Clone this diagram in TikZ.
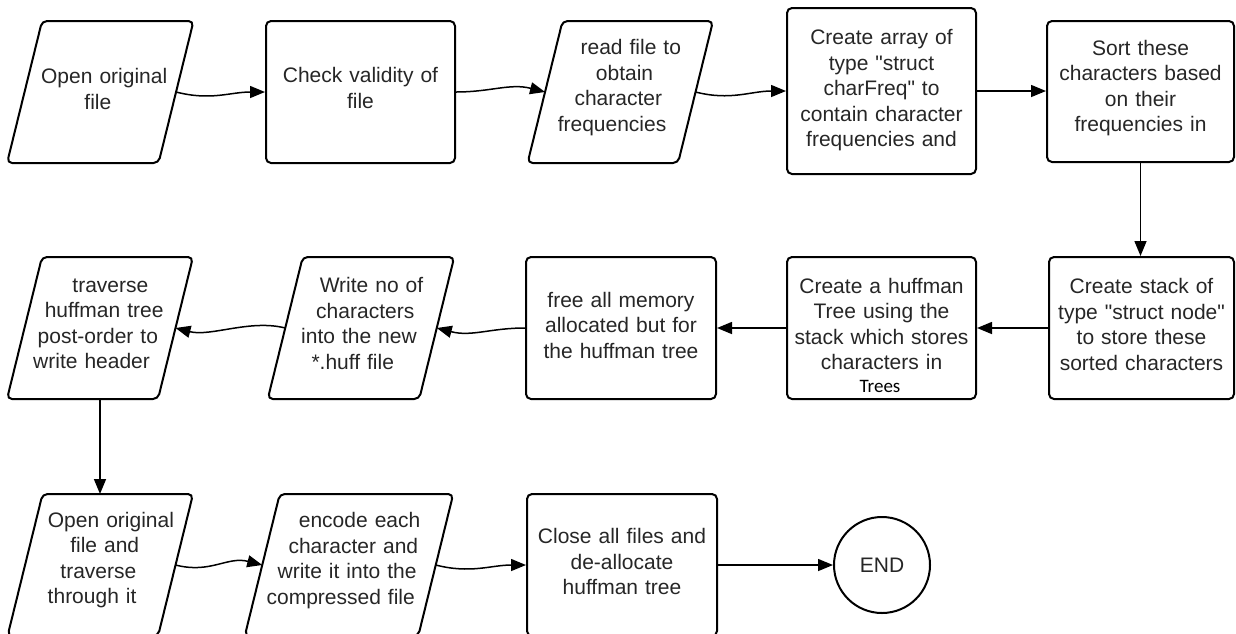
\documentclass[tikz,border=0pt]{standalone}
\usepackage{fontspec}
\setmainfont{Liberation Sans}[Ligatures=TeXOff]
\newfontfamily\carlito{Carlito}
\usetikzlibrary{arrows.meta}
% horizontal shift of a single line inside a centred block
\newcommand{\lsh}[1]{\hspace*{#1pt}}
\begin{document}
\begin{tikzpicture}[x=1pt,y=-1pt,
  rbox/.style={draw=black, line width=2pt, rounded corners=5pt, inner sep=0pt},
  pmid/.style={inner sep=0pt, outer sep=0pt},
  pline/.style={draw=black, line width=2pt, rounded corners=5pt, line join=round},
  txt/.style={text=black!85, font=\fontsize{21}{25.5}\selectfont, align=center,
              inner sep=0pt, text width=220pt},
  conn/.style={draw=black, line width=1.5pt, -{Triangle[length=15pt,width=12pt]}},
]
\useasboundingbox (0,0) rectangle (1236,633);

% ---------- row 1 ----------
\node[pmid, minimum width=151.5pt, minimum height=142pt] (p1) at (100.3,92) {};
\node[txt] (p1t) at (100.3,89) {\lsh{7.8}Open original\\\lsh{-4.8}file};

\node[rbox, minimum width=189pt, minimum height=142pt] (r2) at (360.5,92) {};
\node[txt] (r2t) at (360.5,88) {Check validity of\\file};

\node[pmid, minimum width=150.5pt, minimum height=142pt] (p3) at (620.3,92) {};
\node[txt] (p3t) at (620.3,87.5) {\lsh{21}read file to\\\lsh{8.5}obtain\\\lsh{-4}character\\\lsh{-16.5}frequencies};

\node[rbox, minimum width=189pt, minimum height=166pt] (r4) at (881.5,91) {};
\node[txt] (r4t) at (881.5,90.5) {Create array of\\type "struct\\charFreq" to\\contain character\\frequencies and};

\node[rbox, minimum width=187pt, minimum height=141pt] (r5) at (1140.5,91.5) {};
\node[txt] (r5t) at (1140.5,88) {Sort these\\characters based\\on their\\frequencies in};

% ---------- row 2 ----------
\node[rbox, minimum width=185pt, minimum height=142pt] (r10) at (1141.5,328) {};
\node[txt] (r10t) at (1141.5,324.5) {Create stack of\\type "struct node"\\to store these\\sorted characters};

\node[rbox, minimum width=189pt, minimum height=142pt] (r9) at (881.5,328) {};
\node[txt] (r9t) at (881.5,324) {Create a huffman\\Tree using the\\stack which stores\\characters in};
\node[font=\carlito\fontsize{19}{23}\selectfont, text=black, inner sep=0pt, anchor=base] (r9x) at (880,392) {Trees};

\node[rbox, minimum width=190pt, minimum height=142pt] (r8) at (621,328) {};
\node[txt] (r8t) at (621,325) {free all memory\\allocated but for\\the huffman tree};

\node[pmid, minimum width=151.5pt, minimum height=142pt] (p7) at (361,328) {};
\node[txt] (p7t) at (361,323.5) {\lsh{21}Write no of\\\lsh{8.5}characters\\\lsh{-4}into the new\\\lsh{-16.5}*.huff file};

\node[pmid, minimum width=151pt, minimum height=142pt] (p6) at (100,328) {};
\node[txt] (p6t) at (100,324) {\lsh{20.8}traverse\\\lsh{8.3}huffman tree\\\lsh{-4.3}post-order to\\\lsh{-16.9}write header};

% ---------- row 3 ----------
\node[pmid, minimum width=150.5pt, minimum height=142pt] (p11) at (100.3,565) {};
\node[txt] (p11t) at (100.3,560) {\lsh{21.3}Open original\\\lsh{8.8}file and\\\lsh{-3.8}traverse\\\lsh{-16.4}through it};

\node[pmid, minimum width=173.5pt, minimum height=142pt] (p12) at (349,565) {};
\node[txt] (p12t) at (349,560.5) {\lsh{21.2}encode each\\\lsh{8.7}character and\\\lsh{-3.9}write it into the\\\lsh{-16.5}compressed file};

\node[rbox, minimum width=190pt, minimum height=142pt] (r13) at (622,565) {};
\node[txt] (r13t) at (622,561.5) {Close all files and\\de-allocate\\huffman tree};

\node[draw=black, line width=2pt, circle, minimum size=96pt, inner sep=0pt,
      text=black!85, font=\fontsize{21}{25.5}\selectfont] (c14) at (882,565) {END};

% ---------- slanted input/output outlines ----------
\foreach \n in {p1,p3,p6,p7,p11,p12}
  \draw[pline] ([xshift=17.5pt]\n.north west) -- ([xshift=17.5pt]\n.north east)
    -- ([xshift=-17.5pt]\n.south east) -- ([xshift=-17.5pt]\n.south west) -- cycle;

% ---------- connectors ----------
\draw[conn] (p1.east) .. controls +(35,9) and +(-35,0) .. (r2.west);
\draw[conn] (r2.east) .. controls +(35,0) and +(-35,-9) .. (p3.west);
\draw[conn] (p3.east) .. controls +(35,9) and +(-35,0) .. (r4.west);
\draw[conn] (r4.east) -- (r4.east -| r5.west);
\draw[conn] (r5.south) -- (r5.south |- r10.north);
\draw[conn] (r10.west) -- (r9.east);
\draw[conn] (r9.west) -- (r8.east);
\draw[conn] (r8.west) .. controls +(-35,0) and +(35,9) .. (p7.east);
\draw[conn] (p7.west) .. controls +(-35,-9) and +(35,9) .. (p6.east);
\draw[conn] (p6.south) -- (p6.south |- p11.north);
\draw[conn] (p11.east) .. controls +(35,9) and +(-35,-9) .. (p12.west);
\draw[conn] (p12.east) .. controls +(35,9) and +(-35,0) .. (r13.west);
\draw[conn] (r13.east) -- (c14.west);
\end{tikzpicture}
\end{document}
